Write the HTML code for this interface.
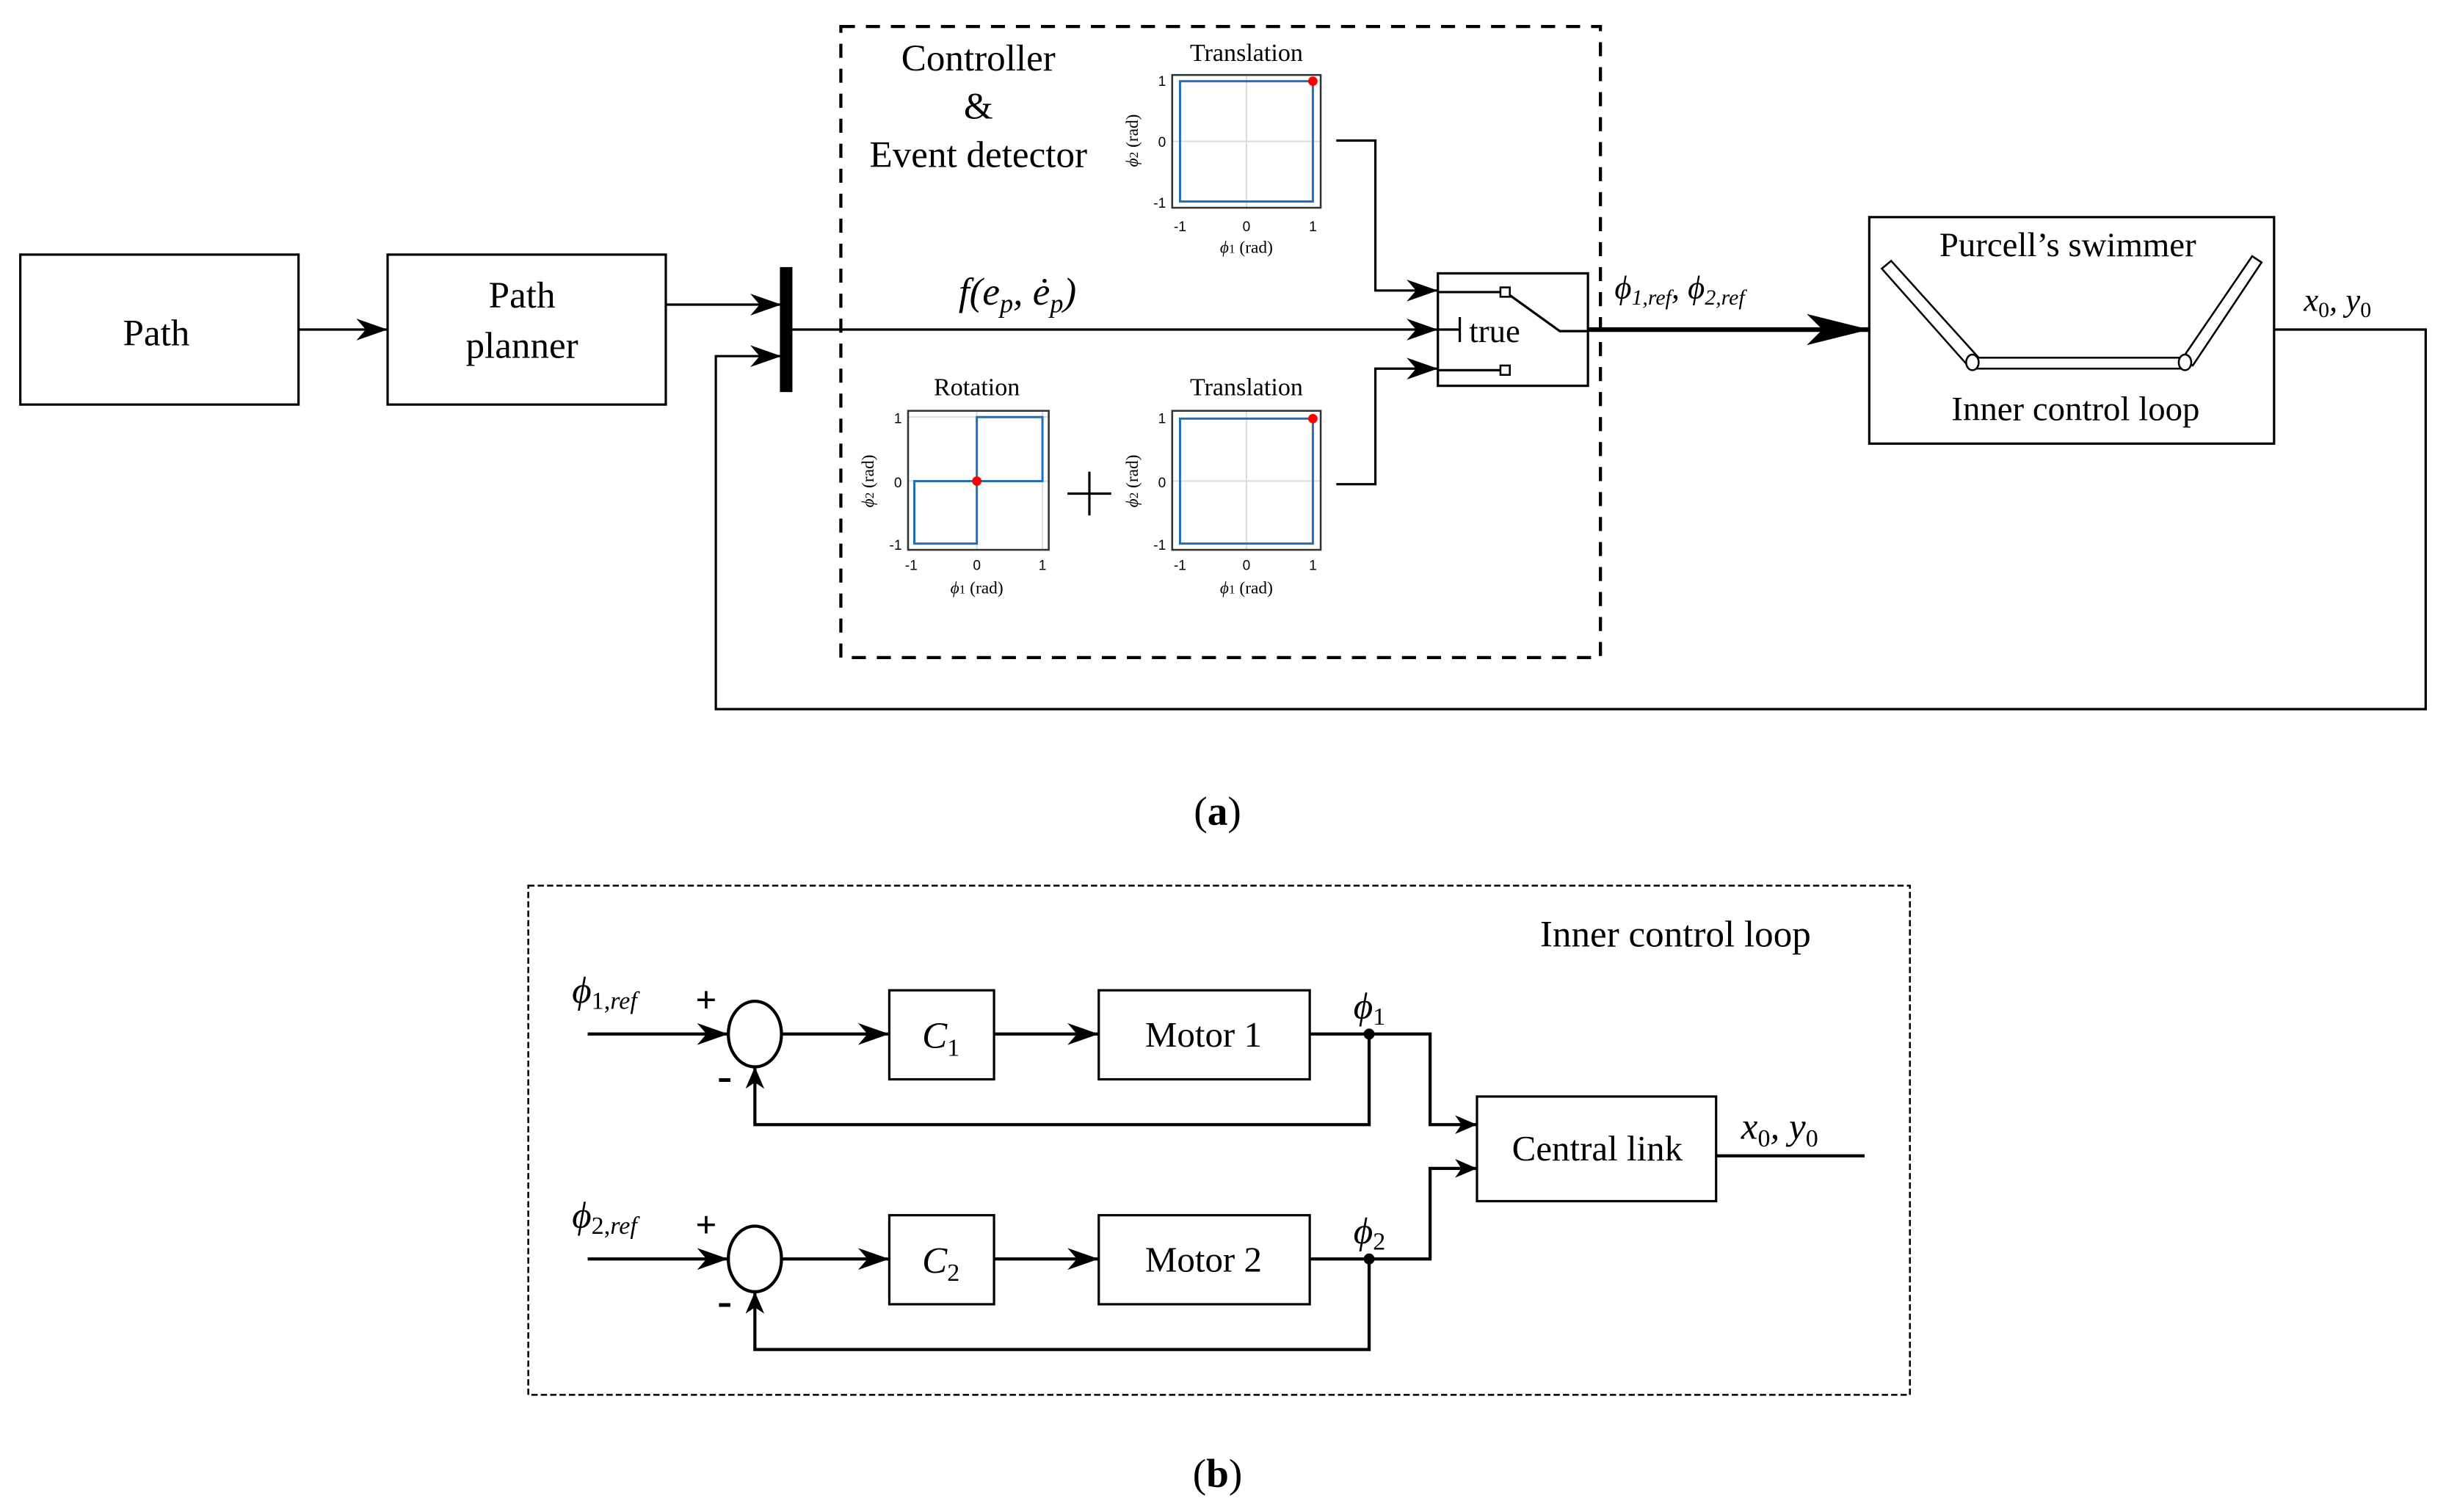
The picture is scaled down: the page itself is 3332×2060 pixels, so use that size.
<!DOCTYPE html>
<html><head><meta charset="utf-8"><style>
html,body{margin:0;padding:0;background:#fff;width:3332px;height:2060px;overflow:hidden}
svg{display:block}
svg text{font-family:"Liberation Serif","DejaVu Serif",serif;fill:#000}
.it{font-style:italic}
svg text.ax{font-family:"Liberation Sans","DejaVu Sans",sans-serif;font-size:9px}
</style></head><body>
<svg width="3332" height="2060" viewBox="0 0 1565 968" preserveAspectRatio="none" xmlns="http://www.w3.org/2000/svg" font-family="Liberation Serif, DejaVu Serif, serif">
<defs>
<marker id="ar" viewBox="0 0 20 14" refX="20" refY="7" markerWidth="20" markerHeight="14" markerUnits="userSpaceOnUse" orient="auto">
<path d="M0,0 L20,7 L0,14 L6,7 Z" fill="#000"/></marker>
<marker id="arB" viewBox="0 0 40 20" refX="40" refY="10" markerWidth="40" markerHeight="20" markerUnits="userSpaceOnUse" orient="auto">
<path d="M0,0 L40,10 L0,20 L10,10 Z" fill="#000"/></marker>
<marker id="ars" viewBox="0 0 14 12" refX="14" refY="6" markerWidth="14" markerHeight="12" markerUnits="userSpaceOnUse" orient="auto">
<path d="M0,0 L14,6 L0,12 L4,6 Z" fill="#000"/></marker>
</defs>
<g fill="none" stroke="#000" stroke-width="1.5">
<rect x="13" y="163" width="178" height="96"/>
<rect x="248" y="163" width="178" height="96"/>
<line x1="191" y1="211" x2="248" y2="211" marker-end="url(#ar)"/>
<line x1="426" y1="195" x2="500" y2="195" marker-end="url(#ar)"/>
<polyline points="1455,211 1552,211 1552,454 458,454 458,228 500,228" marker-end="url(#ar)"/>
<line x1="506" y1="211" x2="920" y2="211" marker-end="url(#ar)"/>
<rect x="538" y="17" width="486" height="404" stroke-dasharray="9,7" stroke-width="2"/>
<polyline points="855,90 880,90 880,186 920,186" marker-end="url(#ar)"/>
<polyline points="855,310 880,310 880,236 920,236" marker-end="url(#ar)"/>
<rect x="920" y="175" width="96" height="72"/>
<line x1="920" y1="187" x2="960" y2="187"/>
<line x1="920" y1="237" x2="960" y2="237"/>
<rect x="960" y="184" width="6" height="6" stroke-width="1.2"/>
<rect x="960" y="234" width="6" height="6" stroke-width="1.2"/>
<polyline points="966,189 998,212 1016,212"/>
<line x1="920" y1="211" x2="934" y2="211"/>
<line x1="934" y1="203" x2="934" y2="219"/>
<line x1="1016" y1="211" x2="1196" y2="211" stroke-width="3" marker-end="url(#arB)"/>
<rect x="1196" y="139" width="259" height="145"/>
<g stroke-width="1.2">
<polygon points="1204,172 1210,167 1266,229 1259,234"/>
<rect x="1263" y="229" width="134" height="7"/>
<polygon points="1396,230 1403,234 1447,168 1441,164"/>
<ellipse cx="1262" cy="232" rx="4" ry="5" fill="#fff"/>
<ellipse cx="1398" cy="232" rx="4" ry="5" fill="#fff"/>
</g>
<line x1="697" y1="302" x2="697" y2="330"/>
<line x1="683" y1="316" x2="711" y2="316"/>
</g>
<rect x="499" y="171" width="8" height="80" fill="#000"/>

<g transform="translate(750,48)">
<line x1="47.5" y1="0" x2="47.5" y2="85" stroke="#ddd"/>
<line x1="0" y1="42.5" x2="95" y2="42.5" stroke="#ddd"/>
<rect x="0" y="0" width="95" height="85" fill="none" stroke="#333" stroke-width="1.2"/>
<rect x="5" y="4" width="85" height="77" fill="none" stroke="#1f6fbf" stroke-width="1.4"/>
<circle cx="90" cy="4" r="3" fill="#f00"/>
<text class="ax" x="-4" y="7" text-anchor="end">1</text>
<text class="ax" x="-4" y="46" text-anchor="end">0</text>
<text class="ax" x="-4" y="85" text-anchor="end">-1</text>
<text class="ax" x="5" y="100" text-anchor="middle">-1</text>
<text class="ax" x="47.5" y="100" text-anchor="middle">0</text>
<text class="ax" x="90" y="100" text-anchor="middle">1</text>
<text x="47.5" y="114" text-anchor="middle" font-size="11"><tspan class="it">ϕ</tspan><tspan font-size="8">1</tspan> (rad)</text>
<text transform="translate(-22,42) rotate(-90)" text-anchor="middle" font-size="11"><tspan class="it">ϕ</tspan><tspan font-size="8">2</tspan> (rad)</text>
<text x="47.5" y="-9" text-anchor="middle" font-size="16">Translation</text>
</g>
<g transform="translate(750,263)">
<line x1="47.5" y1="0" x2="47.5" y2="89" stroke="#ddd"/>
<line x1="0" y1="45" x2="95" y2="45" stroke="#ddd"/>
<rect x="0" y="0" width="95" height="89" fill="none" stroke="#333" stroke-width="1.2"/>
<rect x="5" y="5" width="85" height="80" fill="none" stroke="#1f6fbf" stroke-width="1.4"/>
<circle cx="90" cy="5" r="3" fill="#f00"/>
<text class="ax" x="-4" y="8" text-anchor="end">1</text>
<text class="ax" x="-4" y="49" text-anchor="end">0</text>
<text class="ax" x="-4" y="89" text-anchor="end">-1</text>
<text class="ax" x="5" y="102" text-anchor="middle">-1</text>
<text class="ax" x="47.5" y="102" text-anchor="middle">0</text>
<text class="ax" x="90" y="102" text-anchor="middle">1</text>
<text x="47.5" y="117" text-anchor="middle" font-size="11"><tspan class="it">ϕ</tspan><tspan font-size="8">1</tspan> (rad)</text>
<text transform="translate(-22,45) rotate(-90)" text-anchor="middle" font-size="11"><tspan class="it">ϕ</tspan><tspan font-size="8">2</tspan> (rad)</text>
<text x="47.5" y="-10" text-anchor="middle" font-size="16">Translation</text>
</g>
<g transform="translate(581,263)">
<line x1="44" y1="0" x2="44" y2="89" stroke="#ddd"/>
<line x1="0" y1="45" x2="90" y2="45" stroke="#ddd"/>
<line x1="0" y1="4" x2="90" y2="4" stroke="#ddd"/>
<line x1="86" y1="0" x2="86" y2="89" stroke="#ddd"/>
<rect x="0" y="0" width="90" height="89" fill="none" stroke="#333" stroke-width="1.2"/>
<path d="M44,45 L44,4 L86,4 L86,45 L4,45 L4,85 L44,85 L44,45" fill="none" stroke="#1f6fbf" stroke-width="1.4"/>
<circle cx="44" cy="45" r="3" fill="#f00"/>
<text class="ax" x="-4" y="8" text-anchor="end">1</text>
<text class="ax" x="-4" y="49" text-anchor="end">0</text>
<text class="ax" x="-4" y="89" text-anchor="end">-1</text>
<text class="ax" x="2" y="102" text-anchor="middle">-1</text>
<text class="ax" x="44" y="102" text-anchor="middle">0</text>
<text class="ax" x="86" y="102" text-anchor="middle">1</text>
<text x="44" y="117" text-anchor="middle" font-size="11"><tspan class="it">ϕ</tspan><tspan font-size="8">1</tspan> (rad)</text>
<text transform="translate(-22,45) rotate(-90)" text-anchor="middle" font-size="11"><tspan class="it">ϕ</tspan><tspan font-size="8">2</tspan> (rad)</text>
<text x="44" y="-10" text-anchor="middle" font-size="16">Rotation</text>
</g>

<text x="100" y="221" text-anchor="middle" font-size="24">Path</text>
<text x="334" y="197" text-anchor="middle" font-size="24">Path</text>
<text x="334" y="229" text-anchor="middle" font-size="24">planner</text>
<text x="626" y="45" text-anchor="middle" font-size="24">Controller</text>
<text x="626" y="76" text-anchor="middle" font-size="24">&amp;</text>
<text x="626" y="107" text-anchor="middle" font-size="24">Event detector</text>
<text x="651" y="195" text-anchor="middle" font-size="25" class="it">f(e<tspan font-size="17" dy="5">p</tspan><tspan dy="-5">, ė</tspan><tspan font-size="17" dy="5">p</tspan><tspan dy="-5">)</tspan></text>
<text x="940" y="219" font-size="21">true</text>
<text x="1033" y="191" font-size="21" class="it">ϕ<tspan font-size="14" dy="4">1,ref</tspan><tspan dy="-4">, ϕ</tspan><tspan font-size="14" dy="4">2,ref</tspan></text>
<text x="1323" y="164" text-anchor="middle" font-size="22">Purcell’s swimmer</text>
<text x="1328" y="269" text-anchor="middle" font-size="22">Inner control loop</text>
<text x="1474" y="199" font-size="21" class="it">x<tspan font-size="14" dy="4" font-style="normal">0</tspan><tspan dy="-4">, y</tspan><tspan font-size="14" dy="4" font-style="normal">0</tspan></text>
<text x="779" y="528" text-anchor="middle" font-size="26" font-weight="bold"><tspan font-weight="normal">(</tspan>a<tspan font-weight="normal">)</tspan></text>

<g fill="none" stroke="#000" stroke-width="2">
<rect x="338" y="567" width="884" height="326" stroke-width="1.2" stroke-dasharray="4,2"/>
<line x1="376" y1="662" x2="466" y2="662" marker-end="url(#ar)"/>
<ellipse cx="483" cy="662" rx="17" ry="21"/>
<line x1="500" y1="662" x2="569" y2="662" marker-end="url(#ar)"/>
<rect x="569" y="634" width="67" height="57" stroke-width="1.5"/>
<line x1="636" y1="662" x2="703" y2="662" marker-end="url(#ar)"/>
<rect x="703" y="634" width="135" height="57" stroke-width="1.5"/>
<polyline points="838,662 915,662 915,720 945,720" marker-end="url(#ars)"/>
<polyline points="876,662 876,720 483,720 483,683" marker-end="url(#ars)"/>
<line x1="376" y1="806" x2="466" y2="806" marker-end="url(#ar)"/>
<ellipse cx="483" cy="806" rx="17" ry="21"/>
<line x1="500" y1="806" x2="569" y2="806" marker-end="url(#ar)"/>
<rect x="569" y="778" width="67" height="57" stroke-width="1.5"/>
<line x1="636" y1="806" x2="703" y2="806" marker-end="url(#ar)"/>
<rect x="703" y="778" width="135" height="57" stroke-width="1.5"/>
<polyline points="838,806 915,806 915,748 945,748" marker-end="url(#ars)"/>
<polyline points="876,806 876,864 483,864 483,827" marker-end="url(#ars)"/>
<rect x="945" y="702" width="153" height="67" stroke-width="1.5"/>
<line x1="1098" y1="740" x2="1193" y2="740"/>
</g>
<circle cx="876" cy="662" r="3.5"/><circle cx="876" cy="806" r="3.5"/>
<text x="1072" y="606" text-anchor="middle" font-size="24">Inner control loop</text>
<text x="602" y="671" text-anchor="middle" font-size="24" class="it">C<tspan font-size="16" dy="5" font-style="normal">1</tspan></text>
<text x="602" y="815" text-anchor="middle" font-size="24" class="it">C<tspan font-size="16" dy="5" font-style="normal">2</tspan></text>
<text x="770" y="670" text-anchor="middle" font-size="23">Motor 1</text>
<text x="770" y="814" text-anchor="middle" font-size="23">Motor 2</text>
<text x="1022" y="743" text-anchor="middle" font-size="23">Central link</text>
<text x="1114" y="729" font-size="24" class="it">x<tspan font-size="16" dy="5" font-style="normal">0</tspan><tspan dy="-5">, y</tspan><tspan font-size="16" dy="5" font-style="normal">0</tspan></text>
<text x="366" y="642" font-size="24" class="it">ϕ<tspan font-size="16" dy="4" font-style="normal">1,</tspan><tspan font-size="16">ref</tspan></text>
<text x="366" y="786" font-size="24" class="it">ϕ<tspan font-size="16" dy="4" font-style="normal">2,</tspan><tspan font-size="16">ref</tspan></text>
<text x="445" y="648" font-size="24" font-weight="bold">+</text>
<text x="445" y="792" font-size="24" font-weight="bold">+</text>
<text x="459" y="698" font-size="28" font-weight="bold">-</text>
<text x="459" y="842" font-size="28" font-weight="bold">-</text>
<text x="866" y="652" font-size="24" class="it">ϕ<tspan font-size="16" dy="4" font-style="normal">1</tspan></text>
<text x="866" y="796" font-size="24" class="it">ϕ<tspan font-size="16" dy="4" font-style="normal">2</tspan></text>
<text x="779" y="952" text-anchor="middle" font-size="26" font-weight="bold"><tspan font-weight="normal">(</tspan>b<tspan font-weight="normal">)</tspan></text>
</svg>
</body></html>
